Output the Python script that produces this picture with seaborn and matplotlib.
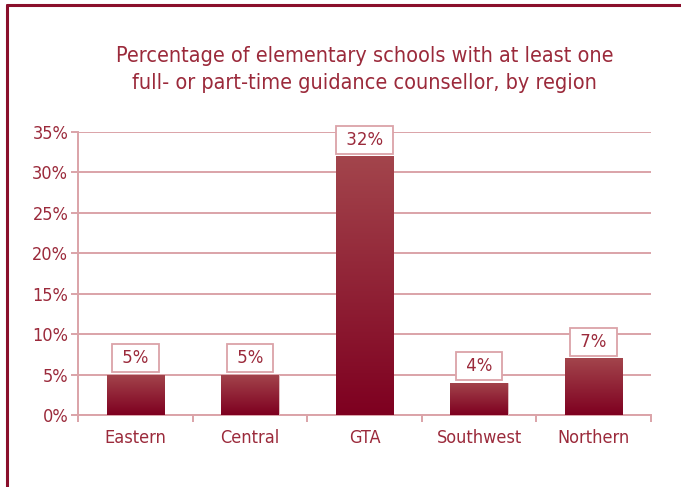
import numpy as np
import pandas as pd
import matplotlib
matplotlib.use("Agg")
import matplotlib.pyplot as plt
from matplotlib.colors import LinearSegmentedColormap
from matplotlib.ticker import FixedLocator, NullFormatter
import seaborn as sns

regions = ["Eastern", "Central", "GTA", "Southwest", "Northern"]
percent = [5, 5, 32, 4, 7]
y_ticks = [0, 5, 10, 15, 20, 25, 30, 35]
title = ("Percentage of elementary schools with at least one\n"
         "full- or part-time guidance counsellor, by region")

DARK = "#8a1230"
GRID = "#dba3a8"
TEXT = "#9b2a3b"

sns.set_theme(style="white")
plt.rcParams["font.family"] = ["DejaVu Sans"]
plt.rcParams["font.stretch"] = "condensed"

df = pd.DataFrame({"region": regions, "percent": percent})

fig = plt.figure(figsize=(6.81, 4.87), dpi=100)
ax = fig.add_axes([0.1145, 0.148, 0.8415, 0.581])

sns.barplot(data=df, x="region", y="percent", ax=ax, width=0.5,
            color=DARK, edgecolor="#e8c8cb", linewidth=0.6, zorder=3)

# vertical gradient inside each bar: lighter at the top, deep red at the bottom
cmap = LinearSegmentedColormap.from_list("bar", ["#7e0020", "#a3454c"])
grad = np.linspace(0, 1, 256).reshape(-1, 1)
for patch in ax.patches:
    x0, y0 = patch.get_x(), patch.get_y()
    w, h = patch.get_width(), patch.get_height()
    im = ax.imshow(grad, extent=[x0, x0 + w, y0, y0 + h], origin="lower",
                   cmap=cmap, aspect="auto", zorder=3.5)
    im.set_clip_path(patch)
ax.set_xlim(-0.5, len(regions) - 0.5)
ax.set_ylim(0, 35)
ax.set_aspect("auto")

# value labels in small boxed tags
for i, v in enumerate(percent):
    ax.annotate(f" {v}% ", xy=(i, v), xytext=(0, 12), textcoords="offset points",
                ha="center", va="center", fontsize=12, color=TEXT, zorder=5,
                fontstretch="normal",
                bbox=dict(boxstyle="square,pad=0.3", fc="white", ec=GRID, lw=1.3))

ax.set_yticks(y_ticks)
ax.set_yticklabels([f"{t}%" for t in y_ticks])
ax.yaxis.grid(True, color=GRID, linewidth=1.4)
ax.set_axisbelow(True)

ax.xaxis.set_minor_locator(FixedLocator(np.arange(-0.5, len(regions), 1.0)))
ax.xaxis.set_minor_formatter(NullFormatter())
ax.tick_params(axis="x", which="major", length=0, pad=10, labelsize=13, labelcolor=TEXT)
ax.tick_params(axis="x", which="minor", bottom=True, length=5, width=1.4, color=GRID)
ax.tick_params(axis="y", left=True, length=5, width=1.4, color=GRID,
               labelsize=13, labelcolor=TEXT, pad=2)

ax.set_xlabel("")
ax.set_ylabel("")
for side in ["top", "right"]:
    ax.spines[side].set_visible(False)
for side in ["left", "bottom"]:
    ax.spines[side].set_color(GRID)
    ax.spines[side].set_linewidth(1.4)

fig.text(0.535, 0.857, title, ha="center", va="center", fontsize=15.5,
         color=TEXT, linespacing=1.4)

# frame line along the top and left edge of the figure
fig.add_artist(plt.Line2D([7 / 681, 1], [1 - 5 / 487, 1 - 5 / 487],
                          transform=fig.transFigure, color="#8a0f2c", lw=2.2))
fig.add_artist(plt.Line2D([7 / 681, 7 / 681], [0, 1 - 5 / 487],
                          transform=fig.transFigure, color="#8a0f2c", lw=2.2))

fig.savefig("out.png", dpi=100, facecolor="white")
